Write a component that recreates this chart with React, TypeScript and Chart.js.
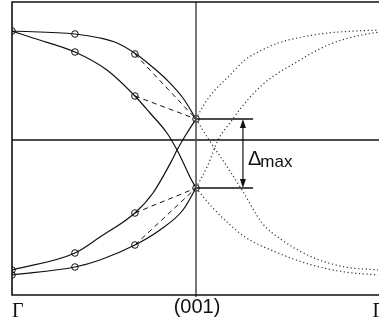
import React, { useEffect, useRef } from "react";
import { Chart, registerables } from "chart.js";

Chart.register(...registerables);

// k-path positions and their labels
const tickValues = [0, 1, 2];
const tickLabels = ["Γ", "(001)", "Γ"];

// Solid branches Γ → (001): [k, E]
const branchA = [[0, 1.09], [0.342, 1.06], [0.478, 1.02], [0.571, 0.97], [0.674, 0.86], [0.75, 0.75], [0.842, 0.6], [0.929, 0.42], [1, 0.21]];
const branchB = [[0, 1.09], [0.114, 1.02], [0.342, 0.88], [0.516, 0.7], [0.668, 0.44], [0.75, 0.27], [0.842, 0.07], [0.897, -0.1], [0.924, -0.2], [0.967, -0.37], [1, -0.48]];
const branchC = [[0, -1.3], [0.342, -1.13], [0.478, -0.97], [0.668, -0.73], [0.766, -0.53], [0.87, -0.2], [0.897, -0.1], [0.951, 0.07], [1, 0.21]];
const branchD = [[0, -1.35], [0.342, -1.27], [0.478, -1.2], [0.668, -1.05], [0.804, -0.9], [0.929, -0.7], [1, -0.48]];

// Dashed straight connections
const dashA = [[0.668, 0.86], [1, 0.21]];
const dashB = [[0.668, 0.44], [1, 0.21]];
const dashC = [[0.668, -0.73], [1, -0.48]];
const dashD = [[0.668, -1.05], [1, -0.48]];

// Dotted branches (001) → Γ
const dotE = [[1, 0.21], [1.049, 0.37], [1.103, 0.5], [1.174, 0.63], [1.266, 0.8], [1.359, 0.9], [1.446, 0.97], [1.576, 1.03], [1.717, 1.07], [1.864, 1.09], [2, 1.1]];
const dotF = [[1, -0.48], [1.065, -0.25], [1.12, 0], [1.196, 0.2], [1.266, 0.37], [1.359, 0.55], [1.446, 0.67], [1.538, 0.77], [1.63, 0.87], [1.717, 0.95], [1.81, 1.01], [1.902, 1.05], [2, 1.08]];
const dotG = [[1, 0.21], [1.071, 0], [1.163, -0.25], [1.25, -0.5], [1.359, -0.83], [1.467, -1.0], [1.63, -1.17], [1.81, -1.27], [2, -1.3]];
const dotH = [[1, -0.48], [1.087, -0.67], [1.174, -0.83], [1.266, -0.97], [1.446, -1.13], [1.63, -1.25], [1.81, -1.32], [2, -1.35]];

// Calculated points (circles)
const markerPoints = [
  [0, 1.09], [0, -1.3], [0, -1.35],
  [0.342, 1.06], [0.342, 0.88], [0.342, -1.13], [0.342, -1.27],
  [0.668, 0.86], [0.668, 0.44], [0.668, -0.73], [0.668, -1.05],
  [1, 0.21], [1, -0.48],
];

// Δmax annotation
const gapUpper = 0.21;
const gapLower = -0.48;
const gapLineEnd = 1.31;
const gapArrowK = 1.255;
const gapLabel = "Δ";
const gapSub = "max";

const toXY = (arr: number[][]) => arr.map(([x, y]) => ({ x, y }));

const framePlugin = {
  id: "frame",
  afterDatasetsDraw(chart: any) {
    const { ctx, chartArea: a, scales } = chart;
    const xs = scales.x, ys = scales.y;
    ctx.save();
    // zero line and (001) line
    ctx.strokeStyle = "#111";
    ctx.lineWidth = 1.4;
    ctx.beginPath();
    const y0 = ys.getPixelForValue(0);
    ctx.moveTo(a.left, y0);
    ctx.lineTo(a.right + 2, y0);
    ctx.stroke();
    ctx.strokeStyle = "#555";
    ctx.lineWidth = 1.6;
    ctx.beginPath();
    const x1 = xs.getPixelForValue(1);
    ctx.moveTo(x1, a.top);
    ctx.lineTo(x1, a.bottom + 2);
    ctx.stroke();
    // frame: top, left, bottom
    ctx.strokeStyle = "#111";
    ctx.lineWidth = 1.6;
    ctx.beginPath();
    ctx.moveTo(a.right + 2, a.top);
    ctx.lineTo(a.left, a.top);
    ctx.lineTo(a.left, a.bottom);
    ctx.lineTo(a.right + 2, a.bottom);
    ctx.stroke();

    // Δmax arrow
    const ax = xs.getPixelForValue(gapArrowK);
    const yu = ys.getPixelForValue(gapUpper);
    const yl = ys.getPixelForValue(gapLower);
    ctx.strokeStyle = "#111";
    ctx.fillStyle = "#111";
    ctx.lineWidth = 1.2;
    ctx.beginPath();
    ctx.moveTo(ax, yu + 6);
    ctx.lineTo(ax, yl - 6);
    ctx.stroke();
    ctx.beginPath();
    ctx.moveTo(ax, yu);
    ctx.lineTo(ax - 3, yu + 9);
    ctx.lineTo(ax + 3, yu + 9);
    ctx.closePath();
    ctx.fill();
    ctx.beginPath();
    ctx.moveTo(ax, yl);
    ctx.lineTo(ax - 3, yl - 9);
    ctx.lineTo(ax + 3, yl - 9);
    ctx.closePath();
    ctx.fill();
    const mid = (yu + yl) / 2;
    ctx.textAlign = "left";
    ctx.textBaseline = "alphabetic";
    ctx.font = "20px 'Liberation Sans', Arial, sans-serif";
    ctx.fillText(gapLabel, ax + 5, mid + 11.5);
    const w = ctx.measureText(gapLabel).width;
    ctx.font = "17px 'Liberation Sans', Arial, sans-serif";
    ctx.fillText(gapSub, ax + 4 + w, mid + 13.5);

    // k-point labels
    tickValues.forEach((v, i) => {
      const px = xs.getPixelForValue(v);
      const label = tickLabels[i];
      if (label === "Γ") {
        ctx.font = "20px 'Liberation Serif', 'Times New Roman', serif";
        ctx.textAlign = i === 0 ? "left" : "right";
        ctx.fillText(label, i === 0 ? px : px + 4, a.bottom + 22);
      } else {
        ctx.font = "20px 'Liberation Sans', Arial, sans-serif";
        ctx.textAlign = "center";
        ctx.fillText(label, px + 1, a.bottom + 18);
      }
    });
    ctx.restore();
  },
};

export default function App() {
  const ref = useRef<HTMLCanvasElement | null>(null);
  useEffect(() => {
    if (!ref.current) return;
    const solid = (d: number[][]) => ({
      data: toXY(d), borderColor: "#111", borderWidth: 1.2, pointRadius: 0,
      cubicInterpolationMode: "monotone", fill: false,
    });
    const dashed = (d: number[][]) => ({
      data: toXY(d), borderColor: "#111", borderWidth: 1, pointRadius: 0,
      borderDash: [5, 4], tension: 0, fill: false,
    });
    const dotted = (d: number[][]) => ({
      data: toXY(d), borderColor: "#333", borderWidth: 1.2, pointRadius: 0,
      borderDash: [1.2, 2.6], cubicInterpolationMode: "monotone", fill: false,
    });
    const gapLine = (y: number) => ({
      data: toXY([[1, y], [gapLineEnd, y]]), borderColor: "#111", borderWidth: 1.3,
      pointRadius: 0, tension: 0, fill: false,
    });
    const chart = new Chart(ref.current, {
      type: "line",
      data: {
        datasets: [
          solid(branchA), solid(branchB), solid(branchC), solid(branchD),
          dashed(dashA), dashed(dashB), dashed(dashC), dashed(dashD),
          dotted(dotE), dotted(dotF), dotted(dotG), dotted(dotH),
          gapLine(gapUpper), gapLine(gapLower),
          {
            data: toXY(markerPoints), showLine: false, pointRadius: 3.3,
            pointBorderWidth: 1, pointBorderColor: "#111",
            pointBackgroundColor: "rgba(0,0,0,0)", borderColor: "#111",
          },
        ] as any,
      },
      options: {
        animation: false,
        responsive: false,
        events: [],
        layout: { autoPadding: false, padding: { left: 12, top: 2, right: 1, bottom: 29 } },
        plugins: { legend: { display: false }, tooltip: { enabled: false } },
        scales: {
          x: { type: "linear", min: 0, max: 1.989, display: false },
          y: { type: "linear", min: -1.55, max: 1.38, display: false },
        },
      },
      plugins: [framePlugin],
    } as any);
    return () => chart.destroy();
  }, []);
  return (
    <div style={{ position: "absolute", left: 0, top: 0, width: 379, height: 324, background: "#fff" }}>
      <canvas ref={ref} width={379} height={324} style={{ display: "block" }} />
    </div>
  );
}
